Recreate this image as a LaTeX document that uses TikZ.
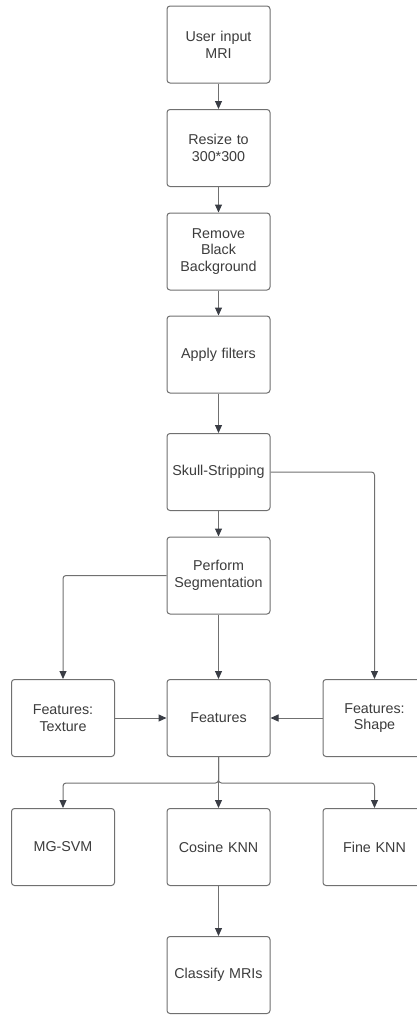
\documentclass[tikz,border=0pt]{standalone}
\usepackage{fontspec}
\setmainfont{Liberation Sans}
\usetikzlibrary{arrows.meta}
\definecolor{boxline}{HTML}{707070}
\definecolor{txt}{HTML}{3C3C3C}
\definecolor{tipc}{HTML}{3A3D45}
\tikzset{
  stepbox/.style={draw=boxline, line width=1pt, rounded corners=3pt, fill=white,
    minimum width=103pt, minimum height=77pt, text width=100pt, align=center,
    text=txt, font=\fontsize{14.3}{16.7}\selectfont, inner sep=0pt},
  conn/.style={draw=boxline, line width=1pt, rounded corners=3pt,
    -{Triangle[length=8pt,width=7pt,color=tipc]}},
}
\begin{document}
\begin{tikzpicture}[x=1pt,y=-1pt]
\useasboundingbox (0,0) rectangle (417,1015);
\clip (0,0) rectangle (417,1015);
\node[stepbox] (user) at (218.5,44.5) {User input\\MRI};
\node[stepbox] (resize) at (218.5,148) {Resize to\\300*300};
\node[stepbox] (remove) at (218.5,251.5) {Remove\\Black\\Background};
\node[stepbox] (filt) at (218.5,354.5) {Apply filters};
\node[stepbox] (skull) at (218.5,472) {Skull-Stripping};
\node[stepbox] (seg) at (218.5,575.5) {Perform\\Segmentation};
\node[stepbox] (tex) at (63,718) {Features:\\Texture};
\node[stepbox] (feat) at (218.5,718) {Features};
\node[stepbox] (shape) at (374.5,718) {Features:\\Shape};
\node[stepbox] (svm) at (63,847) {MG-SVM};
\node[stepbox] (cos) at (218.5,847) {Cosine KNN};
\node[stepbox] (fine) at (374.5,847) {Fine KNN};
\node[stepbox] (cls) at (218.5,975) {Classify MRIs};
\coordinate (split) at (218.5,783);

\draw[conn] (user) -- (resize);
\draw[conn] (resize) -- (remove);
\draw[conn] (remove) -- (filt);
\draw[conn] (filt) -- (skull);
\draw[conn] (skull) -- (seg);
\draw[conn] (skull.east) -| (shape.north);
\draw[conn] (seg.west) -| (tex.north);
\draw[conn] (seg) -- (feat);
\draw[conn] (tex) -- (feat);
\draw[conn] (shape) -- (feat);
\draw[conn] (feat.south) -- (split) -| (svm.north);
\draw[conn] (feat.south) -- (split) -| (fine.north);
\draw[conn] (feat) -- (cos);
\draw[conn] (cos) -- (cls);
\end{tikzpicture}
\end{document}
